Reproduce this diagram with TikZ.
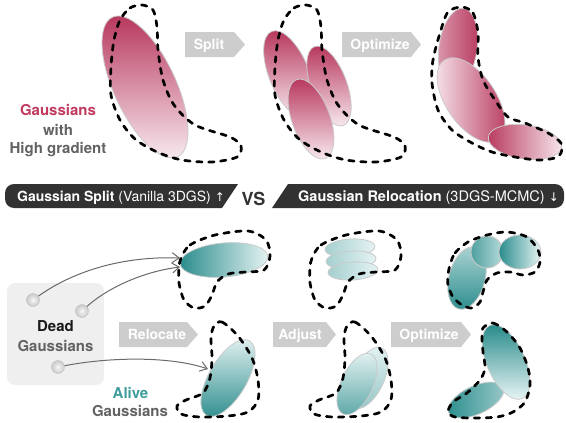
\documentclass[tikz,border=0pt]{standalone}
\usepackage{fontspec}
\setmainfont{TeX Gyre Heros}
\newfontfamily\symfont{DejaVu Sans}
\usetikzlibrary{arrows.meta}

\definecolor{crim}{HTML}{B83A5F}
\definecolor{pinkpale}{HTML}{F7E7ED}
\definecolor{tealdk}{HTML}{2B8C8C}
\definecolor{tealpale}{HTML}{E6F3F3}
\definecolor{ellgray}{HTML}{CACACA}
\definecolor{boxgray}{HTML}{CDCDCD}
\definecolor{bannerdk}{HTML}{323232}
\definecolor{labgray}{HTML}{626262}
\definecolor{crimtext}{HTML}{C0395F}
\definecolor{tealtext}{HTML}{3F9C9C}
\definecolor{deadbg}{HTML}{EFEFEF}
\definecolor{connc}{HTML}{6A6A6A}

\begin{document}
\begin{tikzpicture}[x=1pt,y=-1pt,
  outline/.style={draw=black, line width=2.7pt, dash pattern=on 5.5pt off 6.5pt,
    line cap=round, line join=round},
  gell/.style={draw=ellgray, line width=0.8pt},
  stepbox/.style={fill=boxgray},
  steplabel/.style={text=white, font=\bfseries\fontsize{14}{14}\selectfont,
    inner sep=0pt, anchor=base},
  lab/.style={font=\bfseries\fontsize{15}{15}\selectfont, inner sep=0pt, anchor=base},
  deaddot/.style={circle, minimum size=13pt, inner sep=0pt, shading=radial,
    inner color=gray!6, outer color=gray!42, draw=gray!45, line width=0.5pt},
  conn/.style={draw=connc, line width=1pt, -{Straight Barb[length=7pt,width=10pt]}}
]
\useasboundingbox (0,0) rectangle (566,423);

% ---------- top row: splitting a high-gradient Gaussian ----------
% column 1: one large Gaussian
\path[gell, top color=crim, bottom color=pinkpale, shift={(145,87)}, rotate=25]
  (0,0) ellipse [x radius=31, y radius=77];
\def\hookshape{(120,20) (130,8) (142,5) (153,10) (157,27) (158,50) (163,80)
  (174,105) (195,125) (230,137) (241,146) (237,157) (212,162) (182,160)
  (157,152) (135,139) (120,120) (111,95) (111,67) (114,40)}
\draw[outline] plot[smooth cycle] coordinates {\hookshape};

% column 2: three split Gaussians
\path[gell, top color=crim, bottom color=pinkpale, shift={(289,74)}, rotate=22]
  (0,0) ellipse [x radius=20, y radius=46];
\path[gell, top color=crim, bottom color=pinkpale, shift={(329,86)}, rotate=20]
  (0,0) ellipse [x radius=18, y radius=42];
\path[gell, top color=crim, bottom color=pinkpale, shift={(311,119)}, rotate=20]
  (0,0) ellipse [x radius=19, y radius=42];
\begin{scope}[shift={(164,0)}]
  \draw[outline] plot[smooth cycle] coordinates {\hookshape};
\end{scope}

% column 3: optimized Gaussians
\path[gell, left color=crim!45!pinkpale, right color=crim, shift={(458,48)}, rotate=-8]
  (0,0) ellipse [x radius=19, y radius=40];
\path[gell, left color=pinkpale, right color=crim, shift={(471,100)}, rotate=34]
  (0,0) ellipse [x radius=25, y radius=48];
\path[gell, left color=crim, right color=pinkpale, shift={(525,142)}, rotate=-8]
  (0,0) ellipse [x radius=37, y radius=17];
\draw[outline] plot[smooth cycle] coordinates {(462,7) (473,13) (478,33) (478,57)
  (483,80) (495,100) (508,117) (525,123) (548,133) (561,143) (561,153) (555,158)
  (538,160) (515,157) (492,152) (472,143) (452,130) (438,110) (432,83) (433,60)
  (440,33) (448,12)};

% step arrows, top row
\fill[stepbox] (185,32) -- (234,32) -- (245,44.5) -- (234,57) -- (185,57) -- cycle;
\node[steplabel] (split) at (209,49.5) {Split};
\fill[stepbox] (342,32) -- (411,32) -- (421,44.5) -- (411,57) -- (342,57) -- cycle;
\node[steplabel] (optA) at (380,49.5) {Optimize};

% labels, top row
\node[lab, text=crimtext] (hg1) at (58,115) {Gaussians};
\node[lab, text=labgray] (hg2) at (58,135) {with};
\node[lab, text=labgray] (hg3) at (58,153.5) {High gradient};

% ---------- banner ----------
\fill[bannerdk] (238,184) -- (14,184) arc[start angle=270, end angle=180, radius=9]
  -- (5,199) arc[start angle=180, end angle=90, radius=9] -- (222,208) -- cycle;
\fill[bannerdk] (288,184) -- (555,184) arc[start angle=270, end angle=360, radius=9]
  -- (564,199) arc[start angle=0, end angle=90, radius=9] -- (272,208) -- cycle;
\node[anchor=base west, inner sep=0pt, text=white] (leftttl) at (17,201)
  {\fontsize{14}{14}\selectfont\textbf{Gaussian Split} (Vanilla 3DGS) {\symfont\fontsize{12}{12}\selectfont ↑}};
\node[anchor=base west, inner sep=0pt, text=white] (rightttl) at (298,201)
  {\fontsize{14.5}{14.5}\selectfont\textbf{Gaussian Relocation} (3DGS-MCMC) {\symfont\fontsize{12}{12}\selectfont ↓}};
\node[anchor=base, inner sep=0pt, text=bannerdk, font=\bfseries\fontsize{18}{18}\selectfont]
  (vs) at (253.5,205) {VS};

% ---------- bottom row: relocating dead Gaussians ----------
% dead Gaussians
\fill[deadbg, rounded corners=8pt] (7,283) rectangle (104,385);
\node[lab, text=black!90] (dead1) at (55.5,331.5) {Dead};
\node[lab, text=labgray] (dead2) at (55.5,351) {Gaussians};
\node[deaddot] (d1) at (33,300) {};
\node[deaddot] (d2) at (82,311) {};
\node[deaddot] (d3) at (58,367) {};

% column 1, upper: one alive Gaussian
\path[gell, left color=tealdk, right color=tealpale, shift={(224,260)}, rotate=5]
  (0,0) ellipse [x radius=44, y radius=17];
\def\kidneyshape{(181,258) (190,245) (215,235) (248,231) (266,240) (270,256)
  (264,270) (245,272) (228,274) (217,282) (212,295) (205,306) (194,308)
  (184,300) (179,283) (179,268)}
\draw[outline] plot[smooth cycle] coordinates {\kidneyshape};

% column 1, lower
\path[gell, top color=tealpale, bottom color=tealdk, shift={(228,378)}, rotate=-30]
  (0,0) ellipse [x radius=19, y radius=43];
\def\boomshape{(214,326) (222,322) (238,336) (252,358) (258,380) (258,400)
  (248,412) (228,416) (200,417) (181,414) (177,406) (186,400) (203,393)
  (210,378) (212,358) (211,338)}
\draw[outline] plot[smooth cycle] coordinates {\boomshape};

% connectors from dead Gaussians
\coordinate (t1) at (180,258);
\coordinate (t2) at (180,267);
\coordinate (t3) at (208,369);
\draw[conn] (d1) .. controls (75,270) and (125,256) .. (t1);
\draw[conn] (d2) .. controls (105,290) and (140,272) .. (t2);
\draw[conn] (d3) .. controls (110,357) and (170,356) .. (t3);

% labels, bottom row
\node[lab, text=tealtext] (alive1) at (130.5,398) {Alive};
\node[lab, text=labgray] (alive2) at (130,416.5) {Gaussians};

% step arrows, bottom row
\fill[stepbox] (119,322) -- (187,322) -- (198,334.5) -- (187,347) -- (119,347) -- cycle;
\node[steplabel] (reloc) at (157,339.5) {Relocate};
\fill[stepbox] (273,322) -- (326,322) -- (336,334.5) -- (326,347) -- (273,347) -- cycle;
\node[steplabel] (adjust) at (300,339.5) {Adjust};
\fill[stepbox] (391,322) -- (461,322) -- (471,334.5) -- (461,347) -- (391,347) -- cycle;
\node[steplabel] (optB) at (429,339.5) {Optimize};

% column 2: stacked, adjusted Gaussians
\foreach \cy/\cx in {248/350, 260/351, 271/353}
  \path[gell, left color=tealdk!35!tealpale, right color=tealpale, shift={(\cx,\cy)}, rotate=4]
    (0,0) ellipse [x radius=25, y radius=9];
\begin{scope}[shift={(131,0)}]
  \draw[outline] plot[smooth cycle] coordinates {\kidneyshape};
\end{scope}
\path[gell, top color=tealpale, bottom color=tealdk!45!tealpale, shift={(368,378)}, rotate=-25]
  (0,0) ellipse [x radius=16, y radius=33];
\path[gell, top color=tealpale, bottom color=tealdk!75!tealpale, shift={(357,384)}, rotate=-25]
  (0,0) ellipse [x radius=16, y radius=33];
\begin{scope}[shift={(133,0)}]
  \draw[outline] plot[smooth cycle] coordinates {\boomshape};
\end{scope}

% column 3: optimized Gaussians
\path[gell, top color=tealdk!30!tealpale, bottom color=tealdk, shift={(467,278)}, rotate=-15]
  (0,0) ellipse [x radius=18, y radius=32];
\path[gell, left color=tealdk!80!tealpale, right color=tealdk!25!tealpale]
  (487,252) circle [radius=16];
\path[gell, left color=tealdk, right color=tealpale]
  (520,252) ellipse [x radius=21, y radius=17];
\draw[outline] plot[smooth cycle] coordinates {(450,265) (455,253) (468,242) (487,235)
  (507,232) (527,237) (538,250) (540,262) (535,272) (523,275) (510,272) (497,273)
  (487,280) (483,292) (480,302) (472,308) (462,305) (453,297) (448,285) (448,275)};

\path[gell, left color=tealdk, right color=tealdk!40!tealpale, shift={(476,400)}, rotate=25]
  (0,0) ellipse [x radius=30, y radius=14];
\path[gell, top color=tealdk, bottom color=tealpale, shift={(506,362)}, rotate=24]
  (0,0) ellipse [x radius=19, y radius=40];
\draw[outline] plot[smooth cycle] coordinates {(483,328) (493,323) (507,332) (520,348)
  (528,368) (530,385) (525,402) (513,412) (497,417) (473,418) (455,417) (448,412)
  (453,402) (467,393) (480,380) (485,368) (483,352) (482,338)};
\end{tikzpicture}
\end{document}
